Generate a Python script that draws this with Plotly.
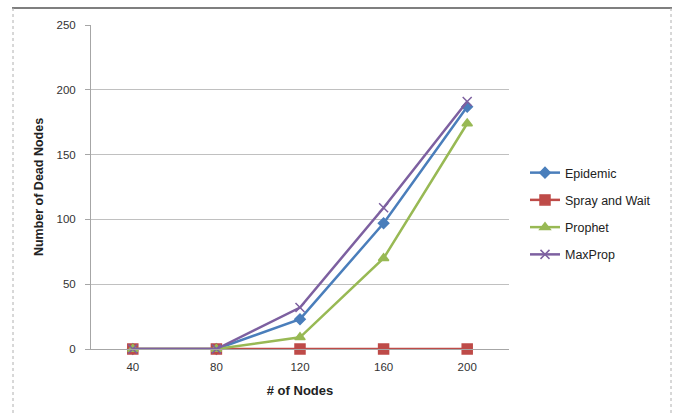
import plotly.graph_objects as go

nodes = ["40", "80", "120", "160", "200"]
epidemic = [0, 0, 23, 97, 187]
spray_and_wait = [0, 0, 0, 0, 0]
prophet = [0, 0, 9, 70, 174]
maxprop = [0, 0, 32, 109, 191]

W, H = 676, 413
L, R, T, B = 91, 167, 25, 64
pw, ph = W - L - R, H - T - B

def px(x):
    return (x - L) / pw

def py(y):
    return (H - B - y) / ph

font = "Liberation Sans"

series = [
    ("Epidemic", epidemic, "#4a7ebb", "diamond", 8),
    ("Spray and Wait", spray_and_wait, "#be4b48", "square", 10),
    ("Prophet", prophet, "#98b954", "triangle-up", 9),
    ("MaxProp", maxprop, "#7d60a0", "x-thin-open", 9),
]

fig = go.Figure()
for name, vals, color, sym, size in series:
    fig.add_trace(go.Scatter(
        x=nodes, y=vals, name=name, mode="lines+markers",
        legendgroup=name, cliponaxis=False,
        line=dict(color=color, width=2.5),
        marker=dict(symbol=sym, size=size, color=color,
                    line=dict(color=color, width=1.5)),
    ))

fig.update_layout(
    width=W, height=H,
    margin=dict(l=L, r=R, t=T, b=B),
    paper_bgcolor="white", plot_bgcolor="white",
    font=dict(family=font, size=11.5, color="#333333"),
    showlegend=True,
    legend=dict(x=px(525), y=py(158), xanchor="left", yanchor="top",
                traceorder="grouped", tracegroupgap=8,
                font=dict(size=12.5, color="#222222"),
                bgcolor="rgba(0,0,0,0)"),
    xaxis=dict(type="category", range=[-0.5, 4.5],
               showgrid=False, showline=True, linecolor="#a6a6a6", linewidth=1,
               ticks="", ticklabelstandoff=7,
               title=dict(text="<b># of Nodes</b>", font=dict(size=13, color="#222222"), standoff=14),
               zeroline=False, fixedrange=True),
    yaxis=dict(range=[0, 250], dtick=50, showgrid=True, gridcolor="#c0c0c0", gridwidth=1,
               showline=True, linecolor="#a6a6a6", linewidth=1,
               ticks="outside", ticklen=5, tickcolor="#a6a6a6", ticklabelstandoff=7,
               title=dict(text="<b>Number of Dead Nodes</b>", font=dict(size=12.5, color="#222222"), standoff=10),
               zeroline=False, fixedrange=True),
)

# outer chart frame
fig.add_shape(type="line", xref="paper", yref="paper",
              x0=px(12), x1=px(672), y0=py(8), y1=py(8),
              line=dict(color="#7f7f7f", width=2))
fig.add_shape(type="line", xref="paper", yref="paper",
              x0=px(13), x1=px(13), y0=py(8), y1=py(413),
              line=dict(color="#b0b0b0", width=1, dash="dot"))
fig.add_shape(type="line", xref="paper", yref="paper",
              x0=px(671), x1=px(671), y0=py(8), y1=py(413),
              line=dict(color="#b0b0b0", width=1, dash="dot"))

fig.write_html("out.html")
